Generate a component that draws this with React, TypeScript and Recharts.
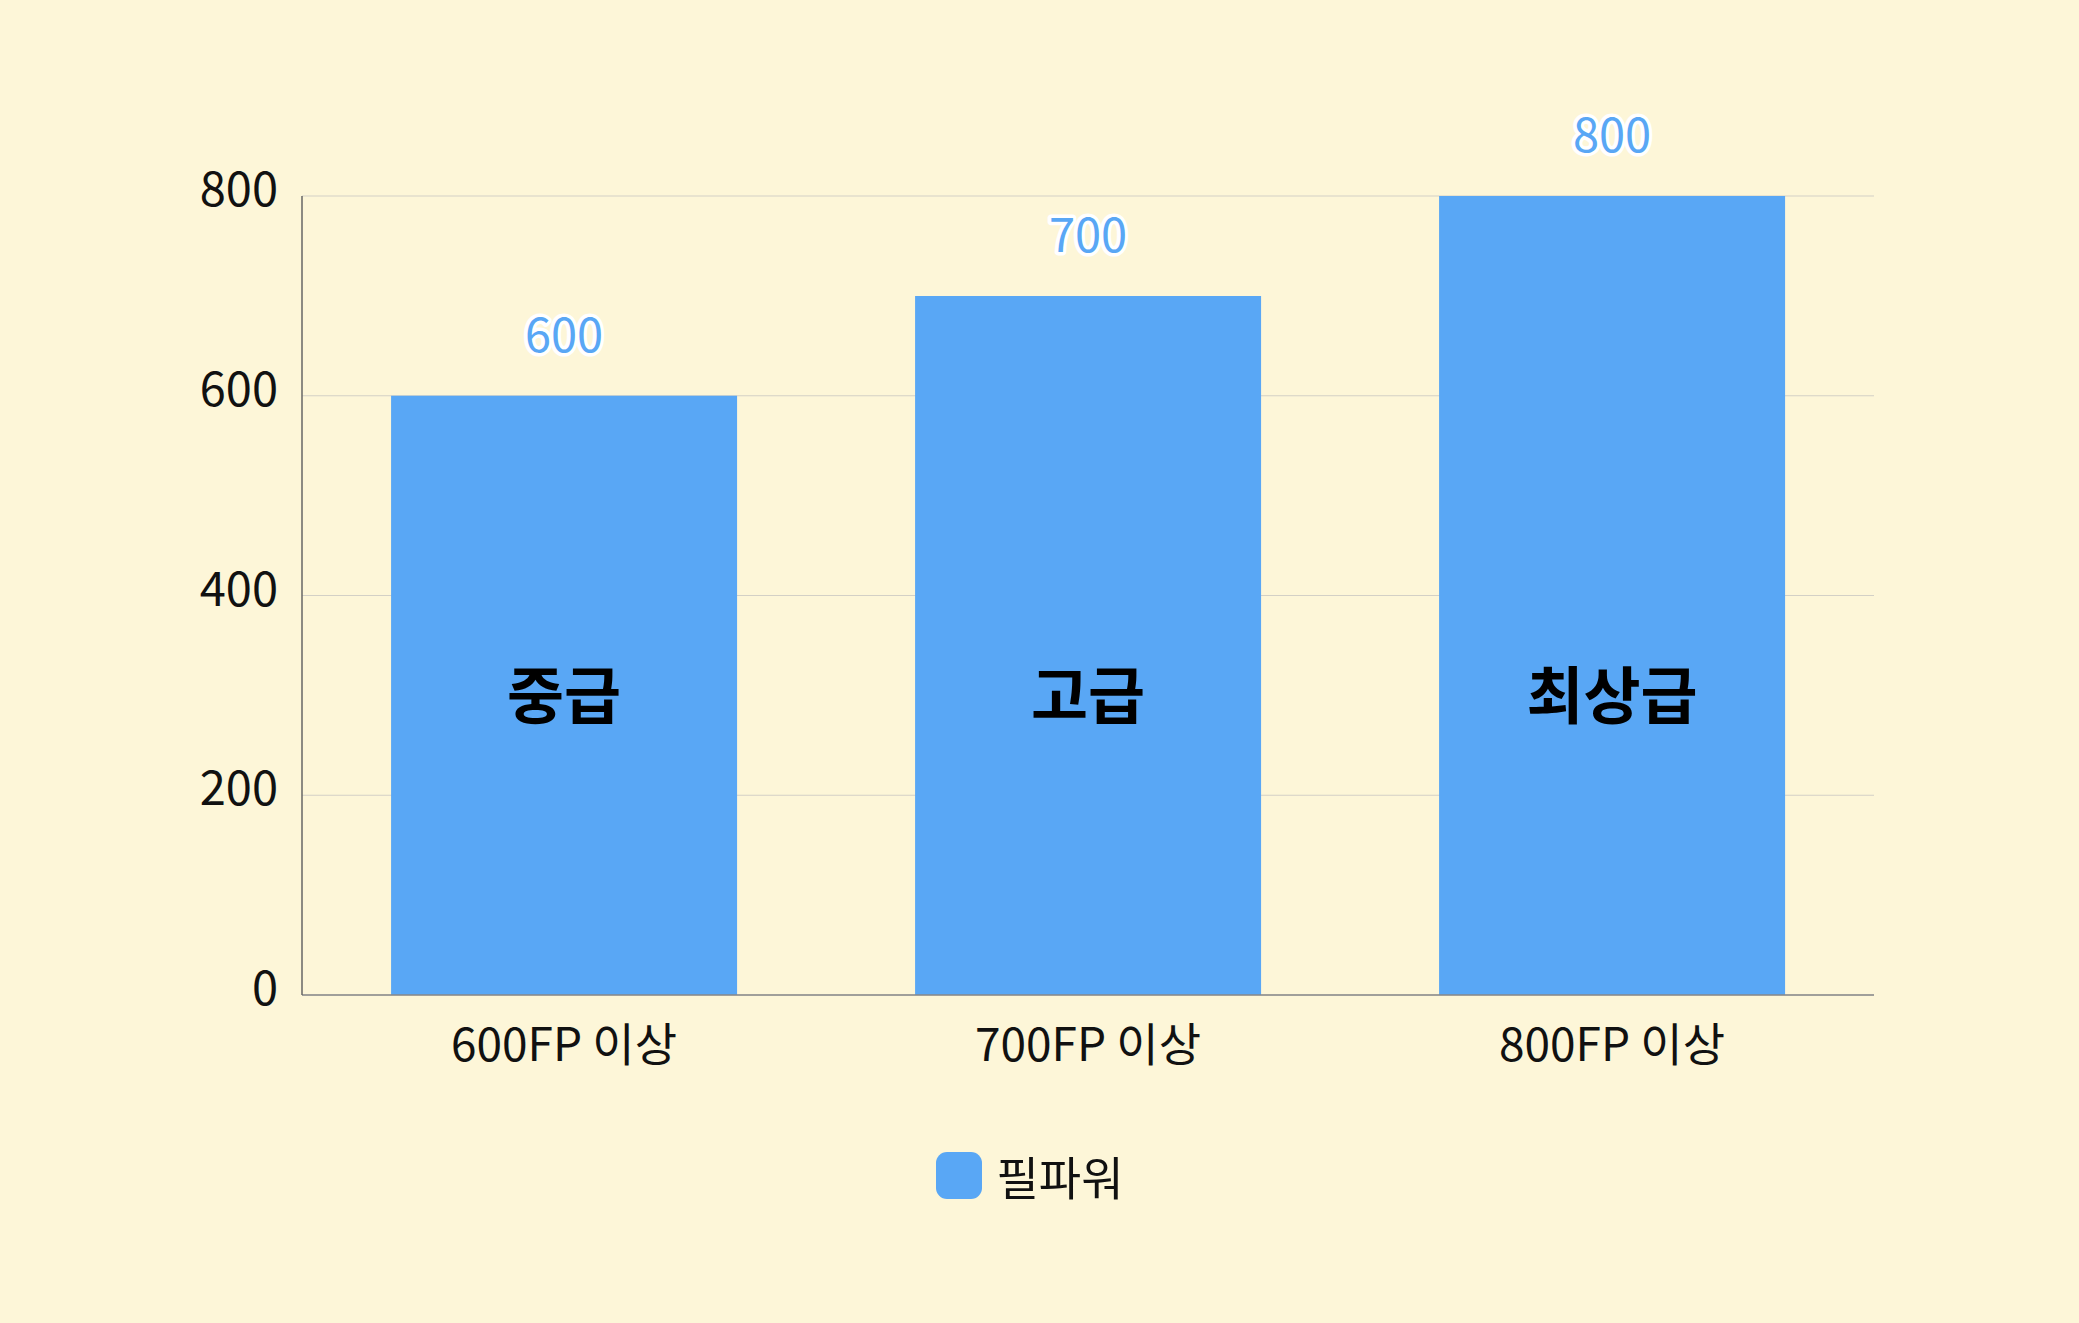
import { Bar, BarChart, CartesianGrid, LabelList, Legend, XAxis, YAxis } from "recharts";

const categories = ["600FP 이상", "700FP 이상", "800FP 이상"];
const grades = ["중급", "고급", "최상급"];
const fillPower = [600, 700, 800];
const yTicks = [0, 200, 400, 600, 800];

const seriesName = "필파워";
const FONT = '"Noto Sans CJK KR", "Noto Sans", sans-serif';
const BLUE = "#59a7f5";
const BG = "#fdf6d8";

const data = categories.map((label, i) => ({
  label,
  grade: grades[i],
  value: fillPower[i],
}));

function YTick(props: any) {
  const { x, y, payload } = props;
  return (
    <text x={x} y={y} dy={10} textAnchor="end" fontSize={47} fill="#111" fontFamily={FONT}>
      {payload.value}
    </text>
  );
}

function XTick(props: any) {
  const { x, y, payload } = props;
  return (
    <text x={x} y={y} dy={34} textAnchor="middle" fontSize={46} fill="#111" fontFamily={FONT}>
      {payload.value}
    </text>
  );
}

function GradeLabel(props: any) {
  const { x, y, width, height, index } = props;
  return (
    <text
      x={x + width / 2}
      y={y + height - 298}
      dy={22}
      textAnchor="middle"
      fontSize={62}
      fontWeight={700}
      fill="#000"
      fontFamily={FONT}
    >
      {grades[index]}
    </text>
  );
}

function LegendContent() {
  return (
    <div style={{ display: "flex", justifyContent: "center", alignItems: "center", gap: 15 }}>
      <div style={{ width: 46, height: 47, borderRadius: 11, background: BLUE }} />
      <span style={{ fontSize: 46, color: "#111", fontFamily: FONT }}>{seriesName}</span>
    </div>
  );
}

export default function App() {
  return (
    <div style={{ position: "fixed", left: 0, top: 0, width: 2079, height: 1323, background: BG }}>
      <BarChart
        width={2079}
        height={1323}
        data={data}
        margin={{ top: 196, right: 205, bottom: 176, left: 202 }}
        barCategoryGap="17%"
      >
        <CartesianGrid stroke="#d3d0c6" vertical={false} />
        <XAxis
          dataKey="label"
          tick={<XTick />}
          tickLine={false}
          tickSize={0}
          tickMargin={32}
          axisLine={{ stroke: "#888", strokeWidth: 1.5 }}
          height={100}
          interval={0}
        />
        <YAxis
          domain={[0, 800]}
          ticks={yTicks}
          tick={<YTick />}
          tickLine={false}
          tickSize={0}
          tickMargin={24}
          axisLine={{ stroke: "#666", strokeWidth: 1.5 }}
          width={100}
        />
        <Legend
          verticalAlign="bottom"
          content={<LegendContent />}
          wrapperStyle={{ top: 1142, left: -10, width: 2079, height: 52 }}
        />
        <Bar dataKey="value" name={seriesName} fill={BLUE} isAnimationActive={false}>
          <LabelList
            dataKey="value"
            position="top"
            offset={44}
            fill={BLUE}
            fontSize={47}
            fontFamily={FONT}
            stroke="#fff"
            strokeWidth={7}
            paintOrder="stroke"
            strokeLinejoin="round"
          />
          <LabelList dataKey="grade" content={<GradeLabel />} />
        </Bar>
      </BarChart>
    </div>
  );
}
